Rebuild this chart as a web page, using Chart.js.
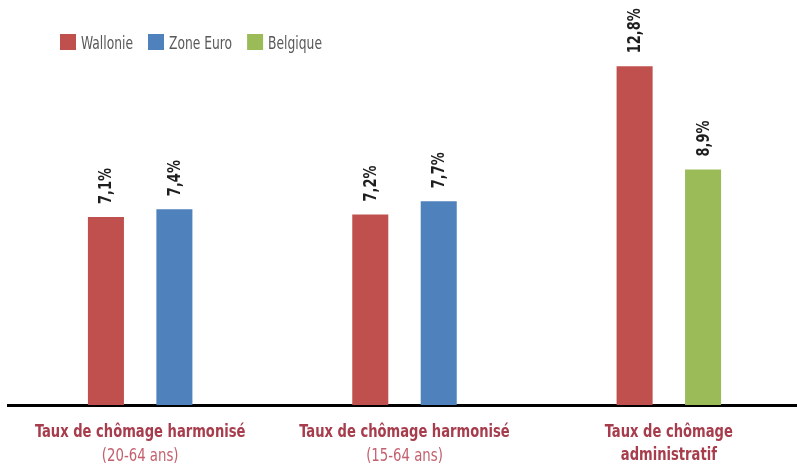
<!DOCTYPE html>
<html><head><meta charset="utf-8">
<script src="https://cdn.jsdelivr.net/npm/chart.js@4.4.1/dist/chart.umd.min.js"></script>
<style>html,body{margin:0;padding:0;background:#fff;overflow:hidden}#wrap{width:797px;height:468px;position:relative;overflow:hidden}canvas{display:block}</style>
</head><body><div id="wrap"><canvas id="c" width="801" height="468"></canvas></div>
<script>
// ---- data ----
const categories = [['Taux de chômage harmonisé'], ['Taux de chômage harmonisé'], ['Taux de chômage', 'administratif']];
const subLabels = ['(20-64 ans)', '(15-64 ans)', ''];
const seriesNames = ['Wallonie', 'Zone Euro', 'Belgique'];
const wallonie = [7.1, 7.2, 12.8];
const zoneEuro = [7.4, 7.7, null];
const belgique = [null, null, 8.9];

const FONT = "'DejaVu Sans Condensed', 'DejaVu Sans', sans-serif";
const colors = ['#c0504d', '#4f81bd', '#9bbb59'];
const catColor = '#a63c4c';
const subColor = '#c4606e';

const fmt = v => v.toFixed(1).replace('.', ',') + '%';

// draw text horizontally condensed by sx around its anchor
function condensedText(ctx, text, x, y, sx) {
  ctx.save();
  ctx.translate(x, y);
  ctx.scale(sx, 1);
  ctx.fillText(text, 0, 0);
  ctx.restore();
  return ctx.measureText(text).width * sx;
}

const valueLabels = {
  id: 'valueLabels',
  afterDatasetsDraw(chart) {
    const ctx = chart.ctx;
    ctx.save();
    ctx.font = 'bold 17px ' + FONT;
    ctx.fillStyle = '#1e1e1e';
    ctx.textAlign = 'left';
    ctx.textBaseline = 'alphabetic';
    chart.data.datasets.forEach((ds, di) => {
      const meta = chart.getDatasetMeta(di);
      meta.data.forEach((bar, i) => {
        const v = ds.data[i];
        if (v === null || v === undefined) return;
        ctx.save();
        ctx.translate(bar.x + 5.5, bar.y - 13);
        ctx.rotate(-Math.PI / 2);
        condensedText(ctx, fmt(v), 0, 0, 0.85);
        ctx.restore();
      });
    });
    ctx.restore();
  }
};

const categoryLabels = {
  id: 'categoryLabels',
  afterDraw(chart) {
    const ctx = chart.ctx;
    const xs = chart.scales.x;
    ctx.save();
    ctx.textAlign = 'center';
    ctx.textBaseline = 'alphabetic';
    categories.forEach((lines, i) => {
      const x = xs.getPixelForValue(i);
      let y = 437;
      ctx.font = 'bold 18px ' + FONT;
      ctx.fillStyle = catColor;
      lines.forEach(l => { condensedText(ctx, l, x, y, 0.81); y += 23; });
      if (subLabels[i]) {
        ctx.font = '18px ' + FONT;
        ctx.fillStyle = subColor;
        condensedText(ctx, subLabels[i], x, 461, 0.82);
      }
    });
    ctx.restore();
  }
};

const customLegend = {
  id: 'customLegend',
  afterDraw(chart) {
    const ctx = chart.ctx;
    ctx.save();
    ctx.font = '18px ' + FONT;
    ctx.textBaseline = 'alphabetic';
    ctx.textAlign = 'left';
    let x = 60;
    chart.data.datasets.forEach(ds => {
      ctx.fillStyle = ds.backgroundColor;
      ctx.fillRect(x, 34, 16, 16);
      ctx.fillStyle = '#595959';
      const tx = x + 21;
      const w = condensedText(ctx, ds.label, tx, 48.5, 0.76);
      x = tx + w + 15;
    });
    ctx.restore();
  }
};

new Chart(document.getElementById('c'), {
  type: 'bar',
  data: {
    labels: categories.map(c => c.join(' ')),
    datasets: [
      { label: seriesNames[0], data: wallonie, backgroundColor: colors[0] },
      { label: seriesNames[1], data: zoneEuro, backgroundColor: colors[1] },
      { label: seriesNames[2], data: belgique, backgroundColor: colors[2] }
    ]
  },
  options: {
    responsive: false,
    animation: false,
    devicePixelRatio: 1,
    datasets: { bar: { skipNull: true, categoryPercentage: 0.518, barPercentage: 0.5263 } },
    layout: { padding: { top: 8, left: 8, right: 0, bottom: 63 } },
    plugins: { legend: { display: false }, tooltip: { enabled: false } },
    scales: {
      x: {
        z: 1,
        grid: { display: false, drawTicks: false },
        border: { display: true, color: '#000', width: 3 },
        ticks: { display: false }
      },
      y: { display: false, min: 0, max: 15 }
    }
  },
  plugins: [valueLabels, categoryLabels, customLegend]
});
</script>
</body></html>
